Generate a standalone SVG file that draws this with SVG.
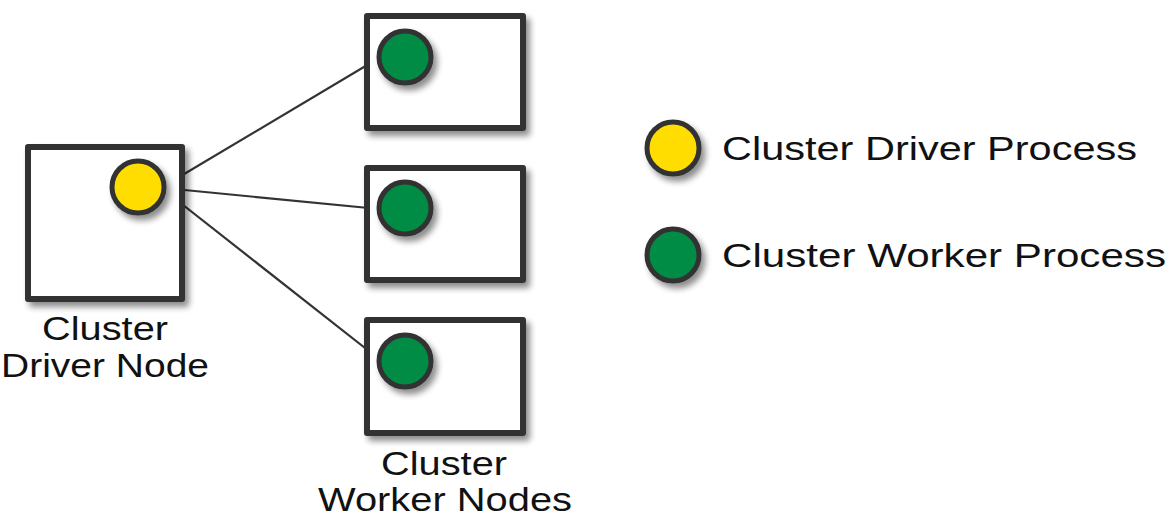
<svg xmlns="http://www.w3.org/2000/svg" width="1167" height="527" viewBox="0 0 1167 527">
<defs>
<filter id="sh" x="-20%" y="-20%" width="150%" height="150%">
<feGaussianBlur in="SourceAlpha" stdDeviation="3"/>
<feOffset dx="4" dy="5" result="b"/>
<feComponentTransfer><feFuncA type="linear" slope="0.45"/></feComponentTransfer>
<feMerge><feMergeNode/><feMergeNode in="SourceGraphic"/></feMerge>
</filter>
</defs>
<style>
.box{fill:#fff;stroke:#333;stroke-width:6;stroke-linejoin:round}
.drv{fill:#FFDD00;stroke:#333;stroke-width:5}
.wrk{fill:#008C44;stroke:#333;stroke-width:5}
.ln{stroke:#333;stroke-width:2.2;fill:none}
.t{font-family:"Liberation Sans",Arial,sans-serif;font-size:33px;fill:#111}
</style>
<rect width="1167" height="527" fill="#fff"/>
<g id="connectors">
<line class="ln" x1="164" y1="186" x2="379" y2="58"/>
<line class="ln" x1="164" y1="188" x2="379" y2="209"/>
<line class="ln" x1="164" y1="190" x2="379" y2="359"/>
</g>
<g id="driver-node">
<rect class="box" x="28" y="147" width="154" height="152" filter="url(#sh)"/>
<circle class="drv" cx="138" cy="187" r="26" filter="url(#sh)"/>
<text class="t" x="105" y="340" text-anchor="middle" textLength="126" lengthAdjust="spacingAndGlyphs">Cluster</text>
<text class="t" x="105" y="377" text-anchor="middle" textLength="208" lengthAdjust="spacingAndGlyphs">Driver Node</text>
</g>
<g id="worker-1">
<rect class="box" x="367" y="16" width="156" height="112" filter="url(#sh)"/>
<circle class="wrk" cx="405" cy="57" r="26" filter="url(#sh)"/>
</g>
<g id="worker-2">
<rect class="box" x="367" y="168" width="156" height="112" filter="url(#sh)"/>
<circle class="wrk" cx="405" cy="208" r="26" filter="url(#sh)"/>
</g>
<g id="worker-3">
<rect class="box" x="367" y="320" width="156" height="113" filter="url(#sh)"/>
<circle class="wrk" cx="405" cy="361" r="26" filter="url(#sh)"/>
</g>
<g id="worker-label">
<text class="t" x="444" y="475" text-anchor="middle" textLength="126" lengthAdjust="spacingAndGlyphs">Cluster</text>
<text class="t" x="445" y="511" text-anchor="middle" textLength="254" lengthAdjust="spacingAndGlyphs">Worker Nodes</text>
</g>
<g id="legend-driver">
<circle class="drv" cx="673" cy="148" r="26" filter="url(#sh)"/>
<text class="t" x="722" y="160" textLength="415" lengthAdjust="spacingAndGlyphs">Cluster Driver Process</text>
</g>
<g id="legend-worker">
<circle class="wrk" cx="673" cy="255" r="26" filter="url(#sh)"/>
<text class="t" x="722" y="267" textLength="444" lengthAdjust="spacingAndGlyphs">Cluster Worker Process</text>
</g>
</svg>
